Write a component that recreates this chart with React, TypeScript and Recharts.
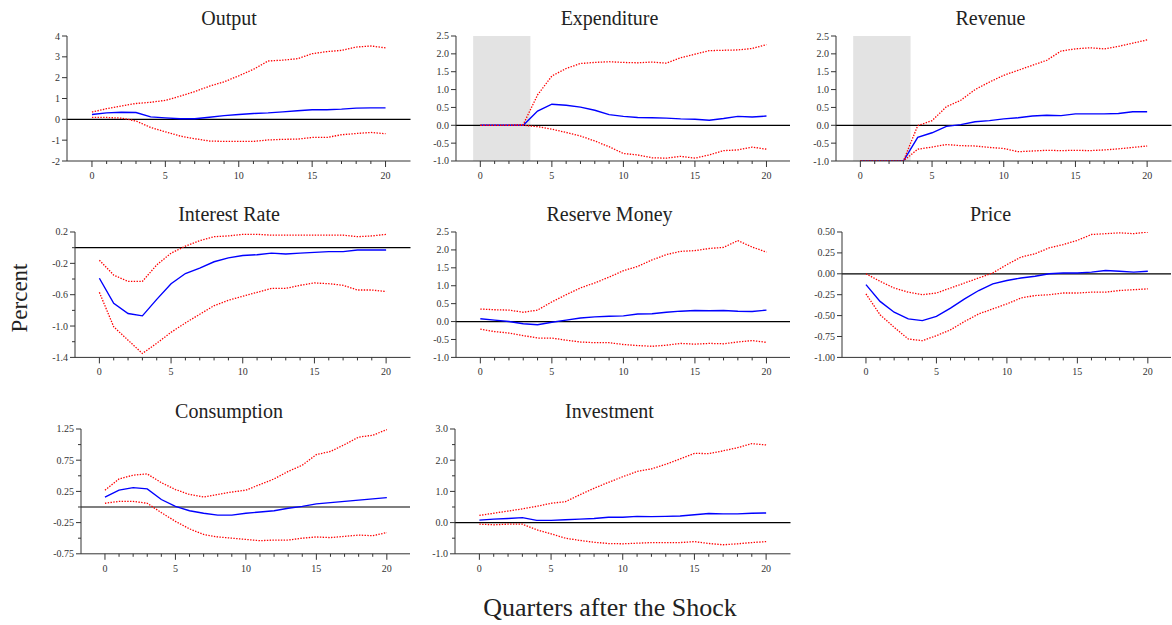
import React from 'react';
import { LineChart, Line, XAxis, YAxis, ReferenceLine, ReferenceArea } from 'recharts';

const quarters = [0, 1, 2, 3, 4, 5, 6, 7, 8, 9, 10, 11, 12, 13, 14, 15, 16, 17, 18, 19, 20];
const xLabels = [0, 5, 10, 15, 20];

const outputMed = [0.23, 0.31, 0.34, 0.33, 0.12, 0.07, 0.03, 0.03, 0.10, 0.18, 0.23, 0.28, 0.31, 0.36, 0.41, 0.46, 0.46, 0.49, 0.54, 0.55, 0.55];
const outputHi = [0.35, 0.51, 0.64, 0.76, 0.82, 0.91, 1.11, 1.33, 1.59, 1.80, 2.09, 2.40, 2.80, 2.84, 2.91, 3.15, 3.25, 3.31, 3.47, 3.52, 3.43];
const outputLo = [0.09, 0.09, 0.06, -0.08, -0.39, -0.60, -0.80, -0.93, -1.04, -1.06, -1.06, -1.06, -0.99, -0.96, -0.95, -0.87, -0.87, -0.74, -0.68, -0.63, -0.69];

const expMed = [0, 0, 0, 0, 0.40, 0.59, 0.56, 0.51, 0.42, 0.30, 0.25, 0.22, 0.21, 0.20, 0.18, 0.17, 0.14, 0.19, 0.25, 0.23, 0.26];
const expHi = [0, 0, 0, 0.02, 0.85, 1.38, 1.59, 1.73, 1.76, 1.78, 1.76, 1.75, 1.77, 1.74, 1.89, 1.99, 2.09, 2.10, 2.11, 2.15, 2.26];
const expLo = [0, 0, 0, 0, -0.04, -0.11, -0.20, -0.30, -0.44, -0.60, -0.79, -0.83, -0.91, -0.92, -0.87, -0.92, -0.83, -0.71, -0.69, -0.61, -0.67];

const revMed = [-1, -1, -1, -1, -0.34, -0.21, -0.03, 0.02, 0.10, 0.13, 0.18, 0.21, 0.26, 0.28, 0.27, 0.32, 0.32, 0.32, 0.33, 0.38, 0.38];
const revHi = [-1, -1, -1, -1, -0.01, 0.13, 0.52, 0.70, 1.00, 1.21, 1.40, 1.54, 1.68, 1.82, 2.08, 2.14, 2.17, 2.14, 2.21, 2.30, 2.39];
const revLo = [-1, -1, -1, -1, -0.67, -0.61, -0.54, -0.57, -0.58, -0.62, -0.65, -0.74, -0.72, -0.70, -0.71, -0.70, -0.71, -0.69, -0.66, -0.62, -0.58];

const rateMed = [-0.39, -0.71, -0.84, -0.87, -0.66, -0.46, -0.33, -0.26, -0.18, -0.13, -0.10, -0.09, -0.07, -0.08, -0.07, -0.06, -0.05, -0.05, -0.03, -0.03, -0.03];
const rateHi = [-0.16, -0.35, -0.43, -0.43, -0.22, -0.07, 0.02, 0.09, 0.14, 0.15, 0.17, 0.17, 0.16, 0.16, 0.16, 0.16, 0.16, 0.16, 0.14, 0.15, 0.17];
const rateLo = [-0.57, -1.01, -1.18, -1.35, -1.22, -1.08, -0.96, -0.85, -0.74, -0.67, -0.62, -0.57, -0.52, -0.52, -0.48, -0.45, -0.46, -0.48, -0.54, -0.54, -0.56];

const resMed = [0.08, 0.04, 0.00, -0.06, -0.09, -0.02, 0.04, 0.10, 0.13, 0.15, 0.16, 0.21, 0.22, 0.26, 0.29, 0.31, 0.30, 0.31, 0.29, 0.28, 0.32];
const resHi = [0.35, 0.33, 0.32, 0.26, 0.32, 0.55, 0.75, 0.94, 1.08, 1.24, 1.42, 1.54, 1.72, 1.87, 1.96, 1.98, 2.04, 2.07, 2.26, 2.08, 1.94];
const resLo = [-0.21, -0.28, -0.32, -0.39, -0.46, -0.46, -0.52, -0.57, -0.59, -0.59, -0.64, -0.67, -0.69, -0.66, -0.61, -0.63, -0.61, -0.62, -0.57, -0.53, -0.58];

const priceMed = [-0.13, -0.33, -0.46, -0.54, -0.56, -0.51, -0.41, -0.30, -0.20, -0.12, -0.08, -0.05, -0.03, 0.00, 0.01, 0.01, 0.02, 0.04, 0.03, 0.02, 0.03];
const priceHi = [0.00, -0.09, -0.17, -0.22, -0.25, -0.23, -0.17, -0.11, -0.05, 0.01, 0.11, 0.20, 0.24, 0.31, 0.35, 0.40, 0.47, 0.48, 0.49, 0.48, 0.50];
const priceLo = [-0.24, -0.49, -0.64, -0.78, -0.80, -0.74, -0.67, -0.57, -0.48, -0.42, -0.36, -0.29, -0.26, -0.25, -0.23, -0.23, -0.22, -0.22, -0.20, -0.19, -0.18];

const consMed = [0.16, 0.27, 0.31, 0.29, 0.12, 0.01, -0.06, -0.10, -0.13, -0.13, -0.10, -0.08, -0.06, -0.02, 0.01, 0.05, 0.07, 0.09, 0.11, 0.13, 0.15];
const consHi = [0.27, 0.45, 0.51, 0.53, 0.39, 0.28, 0.20, 0.16, 0.20, 0.24, 0.27, 0.36, 0.45, 0.57, 0.67, 0.84, 0.89, 1.00, 1.12, 1.15, 1.24];
const consLo = [0.06, 0.09, 0.09, 0.06, -0.09, -0.23, -0.35, -0.44, -0.48, -0.50, -0.52, -0.54, -0.53, -0.53, -0.50, -0.48, -0.49, -0.47, -0.45, -0.46, -0.41];

const invMed = [0.08, 0.11, 0.13, 0.16, 0.07, 0.07, 0.09, 0.11, 0.13, 0.17, 0.17, 0.20, 0.19, 0.20, 0.21, 0.25, 0.29, 0.28, 0.28, 0.30, 0.31];
const invHi = [0.23, 0.30, 0.37, 0.44, 0.52, 0.62, 0.67, 0.89, 1.10, 1.29, 1.47, 1.64, 1.72, 1.87, 2.04, 2.22, 2.21, 2.30, 2.40, 2.53, 2.49];
const invLo = [-0.05, -0.07, -0.05, -0.05, -0.23, -0.36, -0.50, -0.57, -0.63, -0.67, -0.68, -0.66, -0.64, -0.64, -0.64, -0.61, -0.67, -0.71, -0.68, -0.64, -0.61];

const outputTicks = [4, 3, 2, 1, 0, -1, -2];
const halfTicks = [2.5, 2.0, 1.5, 1.0, 0.5, 0.0, -0.5, -1.0];
const rateTicks = [0.2, 0.0, -0.2, -0.4, -0.6, -0.8, -1.0, -1.2, -1.4];
const rateLabels = [0.2, -0.2, -0.6, -1.0, -1.4];
const priceTicks = [0.5, 0.25, 0.0, -0.25, -0.5, -0.75, -1.0];
const consTicks = [1.25, 1.0, 0.75, 0.5, 0.25, 0.0, -0.25, -0.5, -0.75];
const consLabels = [1.25, 0.75, 0.25, -0.25, -0.75];
const invTicks = [3.0, 2.5, 2.0, 1.5, 1.0, 0.5, 0.0, -0.5, -1.0];
const invLabels = [3.0, 2.0, 1.0, 0.0, -1.0];

const FONT = '"Liberation Serif", "Times New Roman", serif';
const TXT = '#333';

type PanelCfg = {
  title: string; med: number[]; hi: number[]; lo: number[];
  axisX: number; right: number; top: number; bottom: number; titleX: number;
  domain: [number, number]; ticks: number[]; labels: number[]; dec: number; shade?: boolean;
};

const has = (arr: number[], v: number) => arr.some((a) => Math.abs(a - v) < 1e-9);

const panels: PanelCfg[] = [
  { title: 'Output', med: outputMed, hi: outputHi, lo: outputLo, axisX: 67, right: 410.5, top: 36, bottom: 161, titleX: 229, domain: [-2, 4], ticks: outputTicks, labels: outputTicks, dec: 0 },
  { title: 'Expenditure', med: expMed, hi: expHi, lo: expLo, axisX: 455.7, right: 790.5, top: 36, bottom: 161, titleX: 609.5, domain: [-1, 2.5], ticks: halfTicks, labels: halfTicks, dec: 1, shade: true },
  { title: 'Revenue', med: revMed, hi: revHi, lo: revLo, axisX: 836, right: 1171.5, top: 36, bottom: 161, titleX: 990.5, domain: [-1, 2.5], ticks: halfTicks, labels: halfTicks, dec: 1, shade: true },
  { title: 'Interest Rate', med: rateMed, hi: rateHi, lo: rateLo, axisX: 75, right: 410.5, top: 232.3, bottom: 357.7, titleX: 229, domain: [-1.4, 0.2], ticks: rateTicks, labels: rateLabels, dec: 1 },
  { title: 'Reserve Money', med: resMed, hi: resHi, lo: resLo, axisX: 455.7, right: 790.5, top: 232.3, bottom: 357.7, titleX: 609.5, domain: [-1, 2.5], ticks: halfTicks, labels: halfTicks, dec: 1 },
  { title: 'Price', med: priceMed, hi: priceHi, lo: priceLo, axisX: 841.7, right: 1171.5, top: 232.3, bottom: 357.7, titleX: 990.5, domain: [-1, 0.5], ticks: priceTicks, labels: priceTicks, dec: 2 },
  { title: 'Consumption', med: consMed, hi: consHi, lo: consLo, axisX: 80.7, right: 410.5, top: 429.2, bottom: 554, titleX: 229, domain: [-0.75, 1.25], ticks: consTicks, labels: consLabels, dec: 2 },
  { title: 'Investment', med: invMed, hi: invHi, lo: invLo, axisX: 455, right: 790.5, top: 429.2, bottom: 554, titleX: 609.5, domain: [-1, 3], ticks: invTicks, labels: invLabels, dec: 1 },
];

const XTick = (props: any) => {
  const { x, y, payload } = props;
  const major = has(xLabels, payload.value);
  return (
    <g>
      <line x1={x} x2={x} y1={y} y2={y + (major ? 6 : 3)} stroke="#333" strokeWidth={1} />
      {major && (
        <text x={x} y={y + 18} textAnchor="middle" fontFamily={FONT} fontSize={10} fill={TXT}>
          {payload.value}
        </text>
      )}
    </g>
  );
};

const makeYTick = (labels: number[], dec: number) => (props: any) => {
  const { x, y, payload } = props;
  const major = has(labels, payload.value);
  return (
    <g>
      <line x1={x - (major ? 5 : 3)} x2={x} y1={y} y2={y} stroke="#333" strokeWidth={1} />
      {major && (
        <text x={x - 7} y={y + 3.5} textAnchor="end" fontFamily={FONT} fontSize={10} fill={TXT}>
          {Number(payload.value).toFixed(dec)}
        </text>
      )}
    </g>
  );
};

function Panel({ p }: { p: PanelCfg }) {
  const data = quarters.map((q, i) => ({ q, med: p.med[i], hi: p.hi[i], lo: p.lo[i] }));
  const YW = 45;
  const XH = 30;
  const MT = 6;
  const width = p.right - p.axisX + YW;
  const height = p.bottom - p.top + MT + XH;
  return (
    <div style={{ position: 'absolute', left: p.axisX - YW, top: p.top - MT }}>
      <LineChart width={width} height={height} data={data} margin={{ top: MT, right: 0, bottom: 0, left: 0 }}>
        {p.shade && (
          <ReferenceArea x1={-0.5} x2={3.5} y1={p.domain[0]} y2={p.domain[1]} fill="#e3e3e3" fillOpacity={1} stroke="none" ifOverflow="visible" />
        )}
        <XAxis
          type="number"
          dataKey="q"
          domain={[-1.7, 21.7]}
          allowDataOverflow
          ticks={quarters}
          interval={0}
          tickSize={0}
          tickMargin={0}
          tickLine={false}
          height={XH}
          axisLine={{ stroke: '#333', strokeWidth: 1 }}
          tick={XTick}
        />
        <YAxis
          type="number"
          domain={p.domain}
          allowDataOverflow
          ticks={p.ticks}
          interval={0}
          tickSize={0}
          tickMargin={0}
          tickLine={false}
          width={YW}
          axisLine={{ stroke: '#333', strokeWidth: 1 }}
          tick={makeYTick(p.labels, p.dec)}
        />
        <ReferenceLine y={0} stroke="#000" strokeWidth={1.2} ifOverflow="visible" />
        <Line type="linear" dataKey="med" stroke="#0000ff" strokeWidth={1.4} dot={false} isAnimationActive={false} />
        <Line type="linear" dataKey="hi" stroke="#ff0000" strokeWidth={1.3} strokeDasharray="1.4 1.4" dot={false} isAnimationActive={false} />
        <Line type="linear" dataKey="lo" stroke="#ff0000" strokeWidth={1.3} strokeDasharray="1.4 1.4" dot={false} isAnimationActive={false} />
      </LineChart>
    </div>
  );
}

export default function App() {
  return (
    <div style={{ position: 'absolute', left: 0, top: 0, width: 1172, height: 625, background: '#fff', overflow: 'hidden' }}>
      {panels.map((p) => (
        <Panel key={p.title} p={p} />
      ))}
      <svg width={1172} height={625} style={{ position: 'absolute', left: 0, top: 0, pointerEvents: 'none' }}>
        {panels.map((p) => (
          <text key={p.title} x={p.titleX} y={p.top - 11} textAnchor="middle" fontFamily={FONT} fontSize={20} fill="#222">
            {p.title}
          </text>
        ))}
        <text x={610} y={616} textAnchor="middle" fontFamily={FONT} fontSize={26} fill="#222">
          Quarters after the Shock
        </text>
        <text x={27} y={298} textAnchor="middle" fontFamily={FONT} fontSize={23} fill="#222" transform="rotate(-90 27 298)">
          Percent
        </text>
      </svg>
    </div>
  );
}
